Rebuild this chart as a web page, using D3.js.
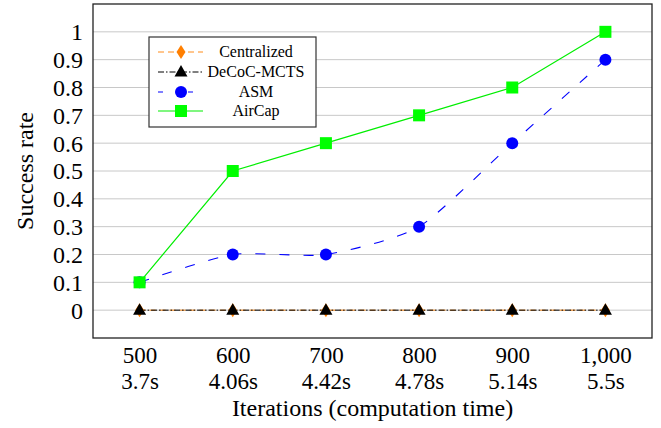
<!DOCTYPE html>
<html><head><meta charset="utf-8">
<script src="https://cdn.jsdelivr.net/npm/d3@7"></script>
</head><body style="margin:0">
<svg id="c" width="661" height="428"></svg>
<script>
const iterations = [500, 600, 700, 800, 900, 1000];
const iterLabels = ["500", "600", "700", "800", "900", "1,000"];
const timeLabels = ["3.7s", "4.06s", "4.42s", "4.78s", "5.14s", "5.5s"];
const yTicks = [0, 0.1, 0.2, 0.3, 0.4, 0.5, 0.6, 0.7, 0.8, 0.9, 1];
const seriesNames = ["Centralized", "DeCoC-MCTS", "ASM", "AirCap"];
const centralized = [0, 0, 0, 0, 0, 0];
const decoc = [0, 0, 0, 0, 0, 0];
const asm = [0.1, 0.2, 0.2, 0.3, 0.6, 0.9];
const aircap = [0.1, 0.5, 0.6, 0.7, 0.8, 1.0];

const svg = d3.select("#c").style("font-family", '"Liberation Serif"');
const L = 93, T = 4, R = 652, B = 338;
const x = d3.scaleLinear().domain([450, 1050]).range([L, R]);
const y = d3.scaleLinear().domain([-0.1, 1.1]).range([B, T]);

function addText(parent, size, str) {
  return parent.append("text")
    .style("font-family", '"Liberation Serif"')
    .style("font-size", size + "px")
    .attr("fill", "#000")
    .text(str);
}

// grid
svg.append("g").selectAll("line").data(yTicks).join("line")
  .attr("x1", L).attr("x2", R).attr("y1", d => y(d)).attr("y2", d => y(d))
  .attr("stroke", "#c8c8c8").attr("stroke-width", 1);

// axes built with d3 scales (labels drawn as own text nodes)
const gy = svg.append("g").attr("transform", `translate(${L},0)`)
  .call(d3.axisLeft(y).tickValues(yTicks).tickSize(0).tickFormat(() => ""));
gy.select(".domain").remove();
gy.selectAll(".tick").each(function(d) {
  d3.select(this).select("text").remove();
  addText(d3.select(this), 24, d3.format("")(d)).attr("x", -10).attr("dy", "0.33em").attr("text-anchor", "end");
});

const gx = svg.append("g").attr("transform", `translate(0,${B})`)
  .call(d3.axisBottom(x).tickValues(iterations).tickSize(0).tickFormat(() => ""));
gx.select(".domain").remove();
gx.selectAll(".tick").each(function(d, i) {
  const g = d3.select(this);
  g.select("text").remove();
  addText(g, 23, iterLabels[i]).attr("text-anchor", "middle").attr("y", 25);
  addText(g, 23, timeLabels[i]).attr("text-anchor", "middle").attr("y", 51);
});

addText(svg, 24, "Iterations (computation time)").attr("x", (L + R) / 2).attr("y", 416).attr("text-anchor", "middle");
addText(svg, 24, "Success rate").attr("transform", `translate(33,${(T + B) / 2}) rotate(-90)`).attr("text-anchor", "middle");

const series = [
  {name: seriesNames[0], data: centralized, color: "#ff8c1a", dash: "6,4", marker: "diamond", curve: d3.curveLinear, width: 1},
  {name: seriesNames[1], data: decoc, color: "#000000", dash: "6,2,1.5,2", marker: "triangle", curve: d3.curveLinear, width: 1},
  {name: seriesNames[2], data: asm, color: "#0000ff", dash: "10,14", marker: "circle", curve: d3.curveCardinal.tension(0.35), width: 1.1},
  {name: seriesNames[3], data: aircap, color: "#00ee00", dash: null, marker: "square", curve: d3.curveLinear, width: 1.2}
];
const markerFill = {"Centralized": "#ff7f00", "DeCoC-MCTS": "#000", "ASM": "#0000ff", "AirCap": "#00ff00"};

function drawMarker(g, type, cx, cy, fill) {
  if (type === "diamond") g.append("path").attr("d", `M${cx},${cy-7}L${cx+4.5},${cy}L${cx},${cy+7}L${cx-4.5},${cy}Z`).attr("fill", fill);
  else if (type === "triangle") g.append("path").attr("d", `M${cx},${cy-7}L${cx+6.5},${cy+4.5}L${cx-6.5},${cy+4.5}Z`).attr("fill", fill);
  else if (type === "circle") g.append("circle").attr("cx", cx).attr("cy", cy).attr("r", 6).attr("fill", fill);
  else if (type === "square") g.append("rect").attr("x", cx - 6).attr("y", cy - 6).attr("width", 12).attr("height", 12).attr("fill", fill);
}

const plot = svg.append("g");
series.forEach(s => {
  const line = d3.line().x((d, i) => x(iterations[i])).y(d => y(d)).curve(s.curve);
  plot.append("path").attr("d", line(s.data)).attr("fill", "none").attr("stroke", s.color)
    .attr("stroke-width", s.width).attr("stroke-dasharray", s.dash);
});
series.forEach(s => {
  s.data.forEach((d, i) => drawMarker(plot, s.marker, x(iterations[i]), y(d), markerFill[s.name]));
});

// frame
svg.append("rect").attr("x", L).attr("y", T).attr("width", R - L).attr("height", B - T)
  .attr("fill", "none").attr("stroke", "#222").attr("stroke-width", 1.3);

// legend
const lg = svg.append("g");
lg.append("rect").attr("x", 149).attr("y", 37).attr("width", 167).attr("height", 90)
  .attr("fill", "#fff").attr("stroke", "#333").attr("stroke-width", 1.2);
const legY = [52, 72, 92, 111];
series.forEach((s, i) => {
  const yy = legY[i];
  lg.append("line").attr("x1", 158).attr("x2", 203).attr("y1", yy).attr("y2", yy)
    .attr("stroke", s.color).attr("stroke-width", s.width).attr("stroke-dasharray", i === 2 ? "5,25" : s.dash);
  drawMarker(lg, s.marker, 181, yy, markerFill[s.name]);
  addText(lg, 16, s.name).attr("x", 256).attr("y", yy).attr("dy", "0.33em").attr("text-anchor", "middle");
});
</script></body></html>
